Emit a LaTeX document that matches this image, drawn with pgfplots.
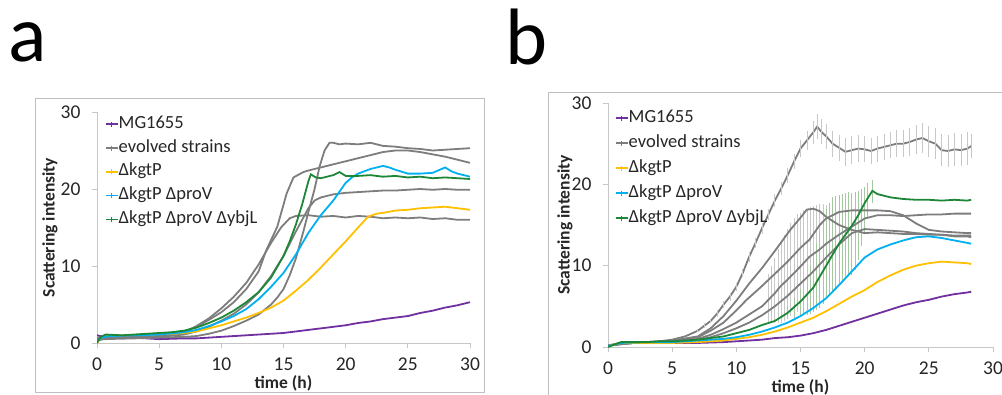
\documentclass[border=0pt]{standalone}
\usepackage{fontspec}
\setmainfont{Carlito}
\usepackage{pgfplots}
\pgfplotsset{compat=1.18}
\definecolor{cpur}{RGB}{112,48,160}
\definecolor{cgry}{RGB}{125,125,125}
\definecolor{cyel}{RGB}{255,192,0}
\definecolor{cblu}{RGB}{0,176,240}
\definecolor{cgrn}{RGB}{30,135,55}
\definecolor{cgrnl}{RGB}{165,200,160}
\definecolor{cgryl}{RGB}{200,200,200}
\newcommand{\lgfont}{\fontsize{18.5}{18.5}\selectfont}
\newcommand{\lbfont}{\bfseries\fontsize{17.5}{18}\selectfont}
\pgfplotsset{
 panel/.style={
  scale only axis, xmin=0,xmax=30,ymin=0,ymax=30,
  axis x line=bottom, axis y line=left,
  axis line style={-, draw=black!22, line width=1pt},
  xtick={0,5,...,30}, ytick={0,10,20,30},
  tick align=outside, major tick length=5pt,
  tick style={draw=black!22, line width=1pt},
  /pgf/number format/assume math mode=true,
  ticklabel style={font=\fontsize{19.5}{19.5}\selectfont, text=black!85},
  yticklabel style={xshift=-8pt},
  xticklabel style={yshift=-6pt},
  legend cell align=left,
  every axis plot/.append style={line width=1.8pt, mark=none},
  error bars/error bar style={line width=0.8pt},
  error bars/error mark=none,
 }
}
\begin{document}
\begin{tikzpicture}
\path[use as bounding box] (0pt,0pt) rectangle (1002pt,394pt);
\draw[black!25, line width=1pt] (35pt,2pt) rectangle (484pt,295pt);
\draw[black!25, line width=1pt] (548pt,-5pt) rectangle (1010pt,301pt);
\node[anchor=base west, inner sep=0pt, font=\fontsize{80}{80}\selectfont] at (8pt,332pt) {a};
\node[anchor=base west, inner sep=0pt, font=\fontsize{80}{80}\selectfont] at (505pt,329pt) {b};

% ---------------- panel a
\begin{axis}[panel, at={(97pt,51pt)}, anchor=origin, width=373pt, height=231pt,
  xlabel={\lbfont time (h)}, ylabel={\lbfont Scattering intensity},
  every axis x label/.style={at={(rel axis cs:0.5,0)}, yshift=-40pt, anchor=center, text=black!85},
  every axis y label/.style={at={(rel axis cs:0,0.5)}, xshift=-47pt, rotate=90, anchor=center, text=black!85},
  legend image code/.code={\draw[#1,line width=1.5pt] (0pt,0pt)--(12pt,0pt); \draw[#1,line width=1pt] (6pt,-2.5pt)--(6pt,2.5pt);},
  legend style={at={(rel axis cs:0,1)}, anchor=north west, xshift=8pt, yshift=-4pt,
    draw=none, fill=none, inner sep=0pt, text=black!85,
    nodes={inner sep=0pt, text height=12pt, text depth=4pt, anchor=west, font=\lgfont}, row sep=7.8pt}]
\addlegendimage{draw=cpur}\addlegendentry{MG1655}
\addlegendimage{draw=cgry}\addlegendentry{evolved strains}
\addlegendimage{draw=cyel}\addlegendentry{ΔkgtP}
\addlegendimage{draw=cblu}\addlegendentry{ΔkgtP ΔproV}
\addlegendimage{draw=cgrn}\addlegendentry{ΔkgtP ΔproV ΔybjL}
\addplot[cpur, forget plot] table {
0 1.0
0.5 0.8
1 0.9
2 0.8
3 0.7
4 0.6
5 0.5
6 0.55
7 0.6
8 0.6
9 0.7
10 0.8
11 0.9
12 1.0
13 1.1
14 1.2
15 1.3
16 1.5
17 1.7
18 1.9
19 2.1
20 2.3
21 2.6
22 2.8
23 3.1
24 3.3
25 3.5
26 3.9
27 4.2
28 4.6
29 4.9
30 5.3
};
\addplot[cgry, forget plot] table {
0 0.5
0.5 0.8
1 0.7
3 0.8
5 0.9
6 1.1
7 1.5
8 2.1
9 3.0
10 4.0
11 5.3
12 7.0
13 9.3
13.6 12.0
14.5 15.1
15.25 19.4
15.8 21.5
16.6 22.2
17 22.4
18 22.8
19 23.2
20 23.6
21 24.0
22 24.4
23 24.8
24 25.0
25 25.0
26 24.8
27 24.5
28 24.2
29 23.8
30 23.4
};
\addplot[cgry, forget plot] table {
0 0.6
0.5 0.9
2 0.8
5 0.9
7 1.4
8 2.2
9 3.2
10 4.5
11 6.0
12 7.8
13 10.2
14 13.0
14.8 15.0
15.5 16.2
16 16.5
17 16.6
18 16.4
19 16.5
20 16.3
21 16.5
22 16.4
23 16.2
24 16.3
25 16.2
26 16.3
27 16.1
28 16.2
29 16.0
30 16.0
};
\addplot[cgry, forget plot] table {
0 0.4
0.5 0.7
2 0.7
5 0.8
7 1.1
8 1.5
9 2.1
10 2.9
11 3.8
12 5.0
13 6.6
14 8.7
15 11.3
16 14.5
16.5 16.0
17 17.5
17.5 18.5
18 18.9
19 19.3
20 19.5
21 19.6
22 19.7
23 19.8
24 19.8
25 19.9
26 20.0
27 19.9
28 20.0
29 19.9
30 19.9
};
\addplot[cgry, forget plot] table {
0 0.3
0.5 0.5
3 0.6
5 0.7
7 0.8
8 0.9
9 1.2
10 1.6
11 2.2
12 2.9
13 3.7
14 5.0
14.5 5.9
15 7.0
15.5 8.8
16 11.0
16.6 14.5
17 17.0
17.5 20.0
17.9 22.9
18.3 25.0
18.7 26.0
19 26.0
19.5 25.8
20 25.9
21 25.8
22 26.0
23 25.6
24 25.5
25 25.3
26 25.2
27 25.0
28 25.1
29 25.2
30 25.3
};
\addplot[cyel, forget plot] table {
0 0.0
0.3 0.7
0.7 1.0
2 1.0
4 1.1
6 1.2
7 1.3
8 1.5
9 1.9
10 2.3
11 2.8
12 3.3
13 3.9
14 4.6
15 5.5
16 6.8
17 8.2
18 9.8
19 11.5
20 13.2
21 15.0
21.8 16.4
22.5 16.8
23 16.9
24 17.2
25 17.3
26 17.5
27 17.6
28 17.7
29 17.5
30 17.3
};
\addplot[cblu, forget plot] table {
0 0.3
0.5 0.8
1 0.9
3 1.0
5 1.1
7 1.4
8 1.7
9 2.2
10 2.8
11 3.5
12 4.4
13 5.7
14 7.3
15 9.1
16 11.5
17 14.3
18 16.6
19 18.5
20 20.8
20.5 21.5
21 22.0
22 22.6
23 23.0
23.5 22.8
24 22.5
25 22.0
26 22.0
27 22.1
28 22.8
28.5 22.3
29 22.0
30 21.6
};
\addplot[cgrn, forget plot] table {
0 0.0
0.3 0.8
0.7 1.1
2 1.0
4 1.2
6 1.4
7 1.6
8 2.0
9 2.6
10 3.3
11 4.2
12 5.3
13 6.6
14 8.5
15 11.3
15.5 13.2
16 15.4
16.5 18.0
17 21.0
17.2 21.9
17.6 21.5
18 21.4
19 21.8
19.5 22.2
20 21.7
21 21.7
22 21.8
23 21.6
24 21.7
25 21.5
26 21.6
27 21.4
28 21.5
29 21.4
30 21.3
};
\end{axis}

% ---------------- panel b
\begin{axis}[panel, at={(608pt,47pt)}, anchor=origin, width=385pt, height=244pt,
  xlabel={\lbfont time (h)}, ylabel={\lbfont Scattering intensity},
  every axis x label/.style={at={(rel axis cs:0.5,0)}, yshift=-40pt, anchor=center, text=black!85},
  every axis y label/.style={at={(rel axis cs:0,0.5)}, xshift=-43pt, rotate=90, anchor=center, text=black!85},
  legend image code/.code={\draw[#1,line width=1.5pt] (0pt,0pt)--(12pt,0pt); \draw[#1,line width=1pt] (6pt,-2.5pt)--(6pt,2.5pt);},
  legend style={at={(rel axis cs:0,1)}, anchor=north west, xshift=7pt, yshift=-7pt,
    draw=none, fill=none, inner sep=0pt, text=black!85,
    nodes={inner sep=0pt, text height=12pt, text depth=4pt, anchor=west, font=\lgfont}, row sep=9pt}]
\addlegendimage{draw=cpur}\addlegendentry{MG1655}
\addlegendimage{draw=cgry}\addlegendentry{evolved strains}
\addlegendimage{draw=cyel}\addlegendentry{ΔkgtP}
\addlegendimage{draw=cblu}\addlegendentry{ΔkgtP ΔproV}
\addlegendimage{draw=cgrn}\addlegendentry{ΔkgtP ΔproV ΔybjL}
% grey error bars (bars only)
\addplot[draw=none, forget plot, error bars/.cd, y dir=both, y explicit, error bar style={cgryl}]
 table[x index=0, y index=1, y error index=2] {
12.5 6.0 3.0
12.75 6.5 3.5
13 7.0 4.0
13.25 7.5 4.5
13.5 8.0 5.0
13.75 8.5 5.3
14 9.0 5.5
14.25 9.5 5.7
14.5 10.0 5.9
14.75 10.3 6.0
15 10.5 6.0
15.25 10.8 6.1
15.5 11.0 6.0
15.75 11.4 5.8
16 11.8 5.5
16.25 12.3 5.2
16.5 12.8 4.8
16.75 13.3 4.3
17 13.8 3.7
17.25 14.3 3.0
17.5 14.8 2.3
};
% green error bars (bars only)
\addplot[draw=none, forget plot, error bars/.cd, y dir=both, y explicit, error bar style={cgrnl}]
 table[x index=0, y index=1, y error plus index=2, y error minus index=3] {
14 4.2 0.8 0.8
14.5 4.8 1.2 1.2
15 5.6 1.5 1.8
15.25 6.0 2.0 2.0
15.5 6.4 2.5 2.5
15.75 6.8 3.2 2.8
16 7.3 4.0 3.0
16.25 7.8 5.0 3.2
16.5 8.3 6.0 3.5
16.75 9.1 6.5 3.8
17 10.0 7.0 4.0
17.25 10.7 7.0 4.2
17.5 11.4 7.0 4.5
17.75 12.1 6.5 4.8
18 12.7 6.0 5.0
18.25 13.3 5.5 5.2
18.5 13.9 5.0 5.5
18.75 14.5 4.5 5.8
19 14.9 4.0 6.0
19.25 15.5 3.5 6.0
19.5 16.2 3.0 5.5
19.75 16.9 2.5 4.5
20 17.7 2.0 3.5
20.25 18.4 1.8 2.5
20.6 19.2 1.3 1.5
};
\addplot[cpur, forget plot] table {
0 0.1
1 0.5
3 0.5
5 0.5
7 0.5
9 0.6
10 0.7
11 0.8
12 0.9
13 1.1
14 1.2
15 1.4
16 1.7
17 2.1
18 2.6
19 3.1
20 3.6
21 4.1
22 4.6
23 5.1
24 5.5
25 5.8
26 6.2
27 6.5
28 6.7
28.3 6.8
};
\addplot[cgry, forget plot, error bars/.cd, y dir=both, y explicit, error bar style={cgryl}]
 table[x index=0, y index=1, y error index=2] {
0 0.2 0
1 0.5 0
2 0.5 0
3 0.6 0
4 0.7 0
5 0.9 0
6 1.3 0
7 2.0 0.2
7.5 2.6 0.3
8 3.2 0.3
8.5 4.1 0.4
9 5.2 0.4
9.5 6.2 0.5
10 7.4 0.5
10.5 9.1 0.5
11 11.1 0.6
11.5 12.8 0.6
12 14.6 0.7
12.5 16.3 0.7
13 18.0 0.8
13.5 19.5 0.8
14 21.1 0.9
14.5 22.8 0.9
15 24.4 1.0
15.5 25.4 1.2
16 26.4 1.4
16.3 27.1 1.5
16.6 26.5 1.5
17 25.9 1.5
17.5 25.0 1.6
18 24.5 1.6
18.5 24.0 1.7
19 24.2 1.7
19.5 24.4 1.7
20 24.3 1.6
20.5 24.1 1.6
21 24.4 1.6
21.5 24.6 1.6
22 24.8 1.6
22.5 25.0 1.7
23 25.0 1.7
23.5 25.2 1.7
24 25.5 1.8
24.5 25.7 1.8
25 25.3 1.9
25.5 25.0 1.9
26 24.2 2.0
26.5 24.1 2.0
27 24.3 2.0
27.5 24.2 2.0
28 24.4 2.0
28.3 24.7 1.5
};
\addplot[cgry, forget plot] table {
0 0.2
2 0.5
5 0.8
7 1.3
8 2.3
9 3.8
10 5.7
11 7.8
12 9.7
13 11.8
14.2 14.4
15 15.9
15.5 16.9
16 17.0
16.5 16.7
17 16.0
18 15.0
19 14.4
20 14.0
21 14.1
22 14.0
23 13.9
24 13.9
25 13.8
26 13.8
27 13.7
28 13.7
28.3 13.7
};
\addplot[cgry, forget plot] table {
0 0.2
2 0.5
5 0.7
7 1.2
8 2.0
9 3.0
10 4.5
10.8 5.8
12 7.5
13 9.0
14 10.5
15 12.2
15.7 13.2
16.5 15.0
17 15.8
18 16.6
19 16.8
20 16.8
21 16.8
22 16.7
23 16.2
24 15.2
25 14.4
26 14.2
27 14.1
28 14.0
28.3 14.0
};
\addplot[cgry, forget plot] table {
0 0.2
2 0.5
5 0.6
7 1.0
8 1.5
9 2.2
10 3.0
11 4.0
12 5.0
13 6.6
13.4 7.4
14 8.3
15 9.9
15.7 11.1
16.5 12.0
17 12.7
18 13.8
19 14.8
20 15.8
21 16.2
22 16.2
23 16.1
24 16.2
25 16.3
26 16.3
27 16.4
28 16.4
28.3 16.4
};
\addplot[cgry, forget plot] table {
0 0.2
2 0.5
5 0.6
7 0.9
8 1.2
9 1.7
10 2.3
11 3.0
12 3.9
13 5.0
14 6.3
15 7.8
16 9.3
17 11.0
18 12.6
19 14.0
20 14.5
21 14.4
22 14.3
23 14.2
24 14.0
25 13.9
26 13.8
27 13.6
28 13.6
28.3 13.5
};
\addplot[cyel, forget plot] table {
0 0.1
1 0.5
3 0.5
5 0.5
7 0.6
9 0.8
10 1.0
11 1.2
12 1.5
13 1.9
14 2.4
15 3.0
16 3.6
17 4.4
18 5.3
19 6.2
20 7.0
21 8.0
22 8.8
23 9.5
24 10.0
25 10.3
26 10.5
27 10.4
28 10.3
28.3 10.2
};
\addplot[cblu, forget plot] table {
0 0.1
1 0.5
3 0.6
5 0.6
7 0.8
9 1.0
10 1.2
11 1.5
12 1.9
13 2.4
14 3.0
15 3.8
16 4.8
17 6.0
18 7.6
19 9.3
20 11.0
21 12.0
22 12.6
23 13.1
24 13.5
25 13.6
26 13.4
27 13.1
28 12.8
28.3 12.7
};
\addplot[cgrn, forget plot] table {
0 0.0
0.5 0.3
1 0.6
2 0.6
3 0.6
4 0.7
5 0.7
6 0.8
7 0.9
8 1.1
9 1.3
10 1.7
11 2.1
12 2.7
13 3.2
14 4.2
15 5.6
16 7.3
17 10.0
18 12.7
19 14.9
19.5 16.2
20 17.7
20.6 19.2
21 18.8
21.5 18.6
22 18.4
23 18.2
24 18.1
25 18.1
26 18.0
27 18.1
28 18.0
28.3 18.1
};
\end{axis}
\end{tikzpicture}
\end{document}
